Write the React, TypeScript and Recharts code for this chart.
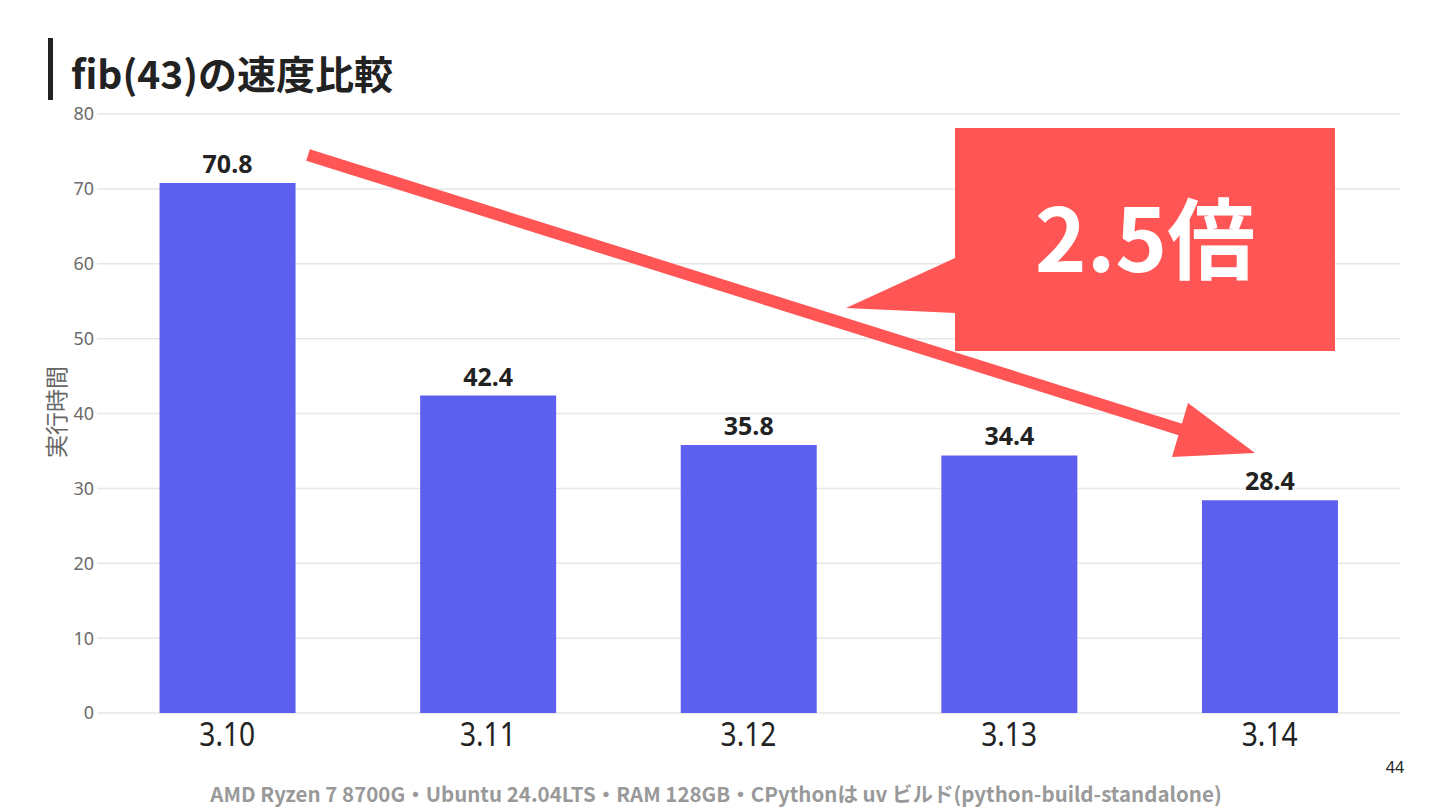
import { BarChart, Bar, XAxis, YAxis, CartesianGrid, LabelList } from "recharts";

const versions = ["3.10", "3.11", "3.12", "3.13", "3.14"];
const runTimes = [70.8, 42.4, 35.8, 34.4, 28.4];
const yTicks = [0, 10, 20, 30, 40, 50, 60, 70, 80];

const data = versions.map((v, i) => ({ version: v, time: runTimes[i] }));

const FONT = "'Noto Sans', 'Noto Sans CJK JP', sans-serif";
const JP = "'Noto Sans CJK JP', 'Noto Sans', sans-serif";

function VersionTick({ x, y, payload }: any) {
  return (
    <g transform={`translate(${x},${y})`}>
      <text
        transform="scale(0.88,1)"
        dy={33}
        textAnchor="middle"
        fontSize={32}
        fill="#222"
        fontFamily={FONT}
      >
        {payload.value}
      </text>
    </g>
  );
}

export default function App() {
  return (
    <div style={{ position: "absolute", left: 0, top: 0, width: 1440, height: 810, background: "#fff", fontFamily: FONT }}>
      <div style={{ position: "absolute", left: 48, top: 38, width: 5, height: 62, background: "#222" }} />
      <div style={{ position: "absolute", left: 71, top: 46, fontSize: 39, fontWeight: 700, color: "#222", fontFamily: JP, lineHeight: "52px" }}>
        fib(43)の速度比較
      </div>

      <BarChart
        width={1440}
        height={810}
        data={data}
        margin={{ top: 114, right: 40, left: 0, bottom: 47 }}
        barCategoryGap="24%"
      >
        <CartesianGrid vertical={false} stroke="#e6e6e6" strokeWidth={1.5} />
        <XAxis
          dataKey="version"
          height={50}
          axisLine={false}
          tickLine={false}
          tickSize={0}
          tickMargin={0}
          tick={<VersionTick />}
          interval={0}
        />
        <YAxis
          width={97}
          domain={[0, 80]}
          ticks={yTicks}
          axisLine={false}
          tickLine={false}
          tickSize={0}
          tickMargin={3}
          tick={{ fill: "#6b6b6b", fontSize: 18, fontFamily: FONT }}
        />
        <Bar dataKey="time" fill="#5d5fef" isAnimationActive={false}>
          <LabelList
            dataKey="time"
            position="top"
            offset={10}
            fill="#222"
            fontSize={25}
            fontWeight={700}
            fontFamily={FONT}
            formatter={(v: any) => Number(v).toFixed(1)}
          />
        </Bar>
      </BarChart>

      <div
        style={{
          position: "absolute",
          left: 55,
          top: 412,
          transform: "translate(-50%,-50%) rotate(-90deg)",
          fontSize: 23,
          color: "#666",
          fontFamily: JP,
          whiteSpace: "nowrap",
        }}
      >
        実行時間
      </div>

      <svg width={1440} height={810} style={{ position: "absolute", left: 0, top: 0, pointerEvents: "none" }}>
        <polygon points="955,128 1335,128 1335,351 955,351 955,313 846,308 955,258" fill="#ff5555" />
        <text x={1145} y={272} textAnchor="middle" fontSize={88} fontWeight={700} fill="#fff" fontFamily={JP}>
          2.5倍
        </text>
        <line x1={308} y1={155} x2={1182} y2={430} stroke="#ff5555" strokeWidth={12} />
        <polygon points="1188,403 1255,453 1172,457" fill="#ff5555" />
      </svg>

      <div style={{ position: "absolute", left: 1395, top: 767, transform: "translate(-50%,-50%)", fontSize: 16, color: "#222" }}>
        44
      </div>
      <div
        style={{
          position: "absolute",
          left: 716,
          top: 793,
          transform: "translate(-50%,-50%)",
          fontSize: 20.5,
          fontWeight: 700,
          color: "#999",
          fontFamily: JP,
          whiteSpace: "nowrap",
        }}
      >
        AMD Ryzen 7 8700G・Ubuntu 24.04LTS・RAM 128GB・CPythonは uv ビルド(python-build-standalone)
      </div>
    </div>
  );
}
